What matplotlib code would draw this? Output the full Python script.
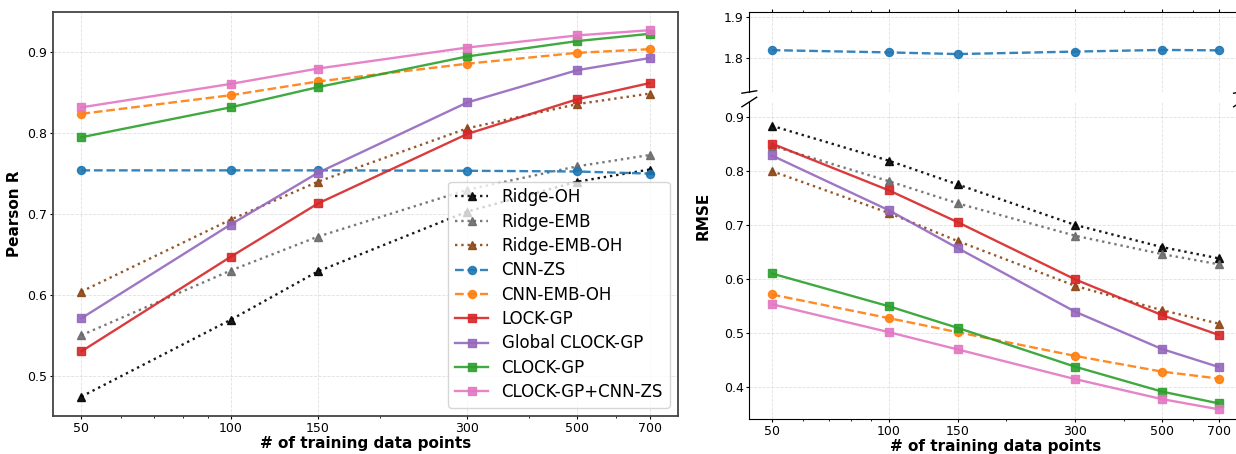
import numpy as np
import matplotlib
matplotlib.use("Agg")
import matplotlib.pyplot as plt
from matplotlib.ticker import NullFormatter, FixedLocator, FixedFormatter

x_points = [50, 100, 150, 300, 500, 700]
x_labels = ["50", "100", "150", "300", "500", "700"]

methods = ["Ridge-OH", "Ridge-EMB", "Ridge-EMB-OH", "CNN-ZS", "CNN-EMB-OH",
           "LOCK-GP", "Global CLOCK-GP", "CLOCK-GP", "CLOCK-GP+CNN-ZS"]

pearson_ridge_oh = [0.474, 0.569, 0.629, 0.703, 0.740, 0.755]
pearson_ridge_emb = [0.550, 0.630, 0.672, 0.730, 0.759, 0.773]
pearson_ridge_emb_oh = [0.604, 0.693, 0.740, 0.806, 0.836, 0.849]
pearson_cnn_zs = [0.754, 0.754, 0.754, 0.7535, 0.7526, 0.750]
pearson_cnn_emb_oh = [0.824, 0.847, 0.864, 0.886, 0.8995, 0.904]
pearson_lock_gp = [0.530, 0.647, 0.713, 0.799, 0.842, 0.862]
pearson_global_clock_gp = [0.571, 0.687, 0.751, 0.838, 0.878, 0.893]
pearson_clock_gp = [0.795, 0.832, 0.857, 0.895, 0.914, 0.923]
pearson_clock_gp_cnn = [0.832, 0.861, 0.880, 0.906, 0.921, 0.9275]

rmse_ridge_oh = [0.884, 0.819, 0.775, 0.700, 0.659, 0.638]
rmse_ridge_emb = [0.847, 0.781, 0.740, 0.680, 0.646, 0.627]
rmse_ridge_emb_oh = [0.800, 0.722, 0.670, 0.587, 0.542, 0.517]
rmse_cnn_zs = [1.8195, 1.814, 1.810, 1.816, 1.820, 1.819]
rmse_cnn_emb_oh = [0.571, 0.527, 0.501, 0.457, 0.428, 0.415]
rmse_lock_gp = [0.851, 0.764, 0.705, 0.599, 0.533, 0.496]
rmse_global_clock_gp = [0.829, 0.727, 0.657, 0.539, 0.470, 0.4365]
rmse_clock_gp = [0.610, 0.549, 0.509, 0.437, 0.391, 0.369]
rmse_clock_gp_cnn = [0.553, 0.501, 0.469, 0.414, 0.377, 0.358]

pearson = [pearson_ridge_oh, pearson_ridge_emb, pearson_ridge_emb_oh, pearson_cnn_zs,
           pearson_cnn_emb_oh, pearson_lock_gp, pearson_global_clock_gp,
           pearson_clock_gp, pearson_clock_gp_cnn]
rmse = [rmse_ridge_oh, rmse_ridge_emb, rmse_ridge_emb_oh, rmse_cnn_zs,
        rmse_cnn_emb_oh, rmse_lock_gp, rmse_global_clock_gp,
        rmse_clock_gp, rmse_clock_gp_cnn]

styles = {
    "Ridge-OH": dict(color="black", ls=":", marker="^"),
    "Ridge-EMB": dict(color="dimgray", ls=":", marker="^"),
    "Ridge-EMB-OH": dict(color="saddlebrown", ls=":", marker="^"),
    "CNN-ZS": dict(color="tab:blue", ls="--", marker="o"),
    "CNN-EMB-OH": dict(color="tab:orange", ls="--", marker="o"),
    "LOCK-GP": dict(color="tab:red", ls="-", marker="s"),
    "Global CLOCK-GP": dict(color="tab:purple", ls="-", marker="s"),
    "CLOCK-GP": dict(color="tab:green", ls="-", marker="s"),
    "CLOCK-GP+CNN-ZS": dict(color="tab:pink", ls="-", marker="s"),
}

W, H = 1236, 454
fig = plt.figure(figsize=(W / 100, H / 100), dpi=100)

def fb(x0, y0, x1, y1):
    return [x0 / W, 1 - y1 / H, (x1 - x0) / W, (y1 - y0) / H]

ax = fig.add_axes(fb(53, 12, 678, 416))
ax_top = fig.add_axes(fb(749.3, 12, 1241, 92))
ax_bot = fig.add_axes(fb(749.3, 102, 1241, 419))

common = dict(lw=1.7, ms=5.8, alpha=0.9)

for name, vals in zip(methods, pearson):
    ax.plot(x_points, vals, label=name, **styles[name], **common)

for name, vals in zip(methods, rmse):
    if name == "CNN-ZS":
        ax_top.plot(x_points, vals, label=name, **styles[name], **common)
    else:
        ax_bot.plot(x_points, vals, label=name, **styles[name], **common)

for a in (ax, ax_top, ax_bot):
    a.set_xscale("log")
    a.xaxis.set_major_locator(FixedLocator(x_points))
    a.xaxis.set_major_formatter(FixedFormatter(x_labels))
    a.xaxis.set_minor_formatter(NullFormatter())
    a.grid(True, which="major", ls="--", lw=0.6, color="lightgray", alpha=0.7)
    a.tick_params(which="major", labelsize=9, length=2.5, pad=1.5)
    a.tick_params(which="minor", length=1.5)

ax.set_ylim(0.45, 0.95)
ax.set_yticks([0.5, 0.6, 0.7, 0.8, 0.9])
for s in ax.spines.values():
    s.set_color("#444444")
    s.set_linewidth(1.3)
ax.set_xlabel("# of training data points", fontsize=11, fontweight="bold", labelpad=1)
ax.set_ylabel("Pearson R", fontsize=11, fontweight="bold", labelpad=4)
ax.legend(loc="lower right", fontsize=12, labelspacing=0.38)

ax_top.set_ylim(1.718, 1.912)
ax_top.set_yticks([1.8, 1.9])
ax_bot.set_ylim(0.34, 0.928)
ax_bot.set_yticks([0.4, 0.5, 0.6, 0.7, 0.8, 0.9])

ax_top.spines["bottom"].set_visible(False)
ax_bot.spines["top"].set_visible(False)
ax_top.xaxis.tick_top()
ax_top.tick_params(labeltop=False, which="both")
ax_bot.xaxis.tick_bottom()
ax_bot.set_xlabel("# of training data points", fontsize=11, fontweight="bold", labelpad=1)
fig.text(703 / W, 1 - 215.5 / H, "RMSE", rotation=90, ha="center", va="center",
         fontsize=11, fontweight="bold")

d = 0.015
kw = dict(transform=ax_top.transAxes, color="k", clip_on=False, lw=1)
ax_top.plot((-d, +d), (-d, +d), **kw)
ax_top.plot((1 - d, 1 + d), (-d, +d), **kw)
kw.update(transform=ax_bot.transAxes)
ax_bot.plot((-d, +d), (1 - d, 1 + d), **kw)
ax_bot.plot((1 - d, 1 + d), (1 - d, 1 + d), **kw)

fig.savefig("out.png", dpi=100)
